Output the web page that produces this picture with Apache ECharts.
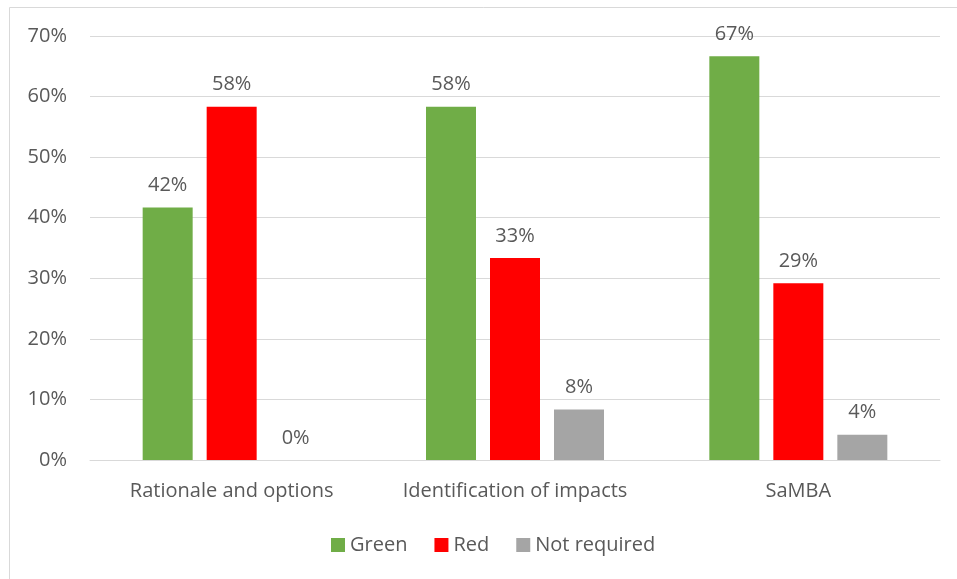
<!DOCTYPE html>
<html>
<head>
<meta charset="utf-8">
<script src="https://cdn.jsdelivr.net/npm/echarts@6/dist/echarts.min.js"></script>
<style>
  html, body { margin: 0; padding: 0; background: #fff; }
  #chart { width: 957px; height: 579px; }
</style>
</head>
<body>
<div id="chart"></div>
<script>
// Review outcome shares per assessment section
const categories = ['Rationale and options', 'Identification of impacts', 'SaMBA'];
const greenValues = [41.67, 58.33, 66.67];
const redValues = [58.33, 33.33, 29.17];
const notRequiredValues = [0, 8.33, 4.17];
const yTicks = [0, 10, 20, 30, 40, 50, 60, 70];

const textColor = '#595959';
const font = '"Open Sans", "Liberation Sans", sans-serif';
const fontSize = 20;

const chart = echarts.init(document.getElementById('chart'), null, { renderer: 'canvas' });

function barSeries(name, data, color) {
  return {
    name: name,
    type: 'bar',
    data: data,
    barWidth: 50,
    barGap: '28%',
    itemStyle: { color: color },
    label: {
      show: true,
      position: 'top',
      distance: 12,
      formatter: p => Math.round(p.value) + '%',
      color: textColor,
      fontFamily: font,
      fontSize: fontSize
    }
  };
}

chart.setOption({
  animation: false,
  backgroundColor: '#fff',
  graphic: [{
    type: 'rect',
    shape: { x: 9.5, y: 7.5, width: 1000, height: 1000 },
    style: { fill: 'none', stroke: '#d9d9d9', lineWidth: 1 },
    silent: true
  }],
  legend: {
    bottom: 19,
    left: 326,
    itemWidth: 14,
    itemHeight: 14,
    itemGap: 27,
    icon: 'rect',
    textStyle: { color: textColor, fontFamily: font, fontSize: fontSize }
  },
  grid: { left: 90, right: 17, top: 36, bottom: 119 },
  xAxis: {
    type: 'category',
    data: categories,
    axisTick: { show: false },
    axisLine: { lineStyle: { color: '#d9d9d9', width: 1 } },
    axisLabel: { color: textColor, fontFamily: font, fontSize: fontSize, margin: 21, interval: 0, hideOverlap: false }
  },
  yAxis: {
    type: 'value',
    min: yTicks[0],
    max: yTicks[yTicks.length - 1],
    interval: 10,
    axisLine: { show: false },
    axisTick: { show: false },
    splitLine: { lineStyle: { color: '#d9d9d9', width: 1 } },
    axisLabel: { color: textColor, fontFamily: font, fontSize: fontSize, margin: 23, formatter: v => v + '%' }
  },
  series: [
    barSeries('Green', greenValues, '#70ad47'),
    barSeries('Red', redValues, '#ff0000'),
    barSeries('Not required', notRequiredValues, '#a5a5a5')
  ]
});
</script>
</body>
</html>
